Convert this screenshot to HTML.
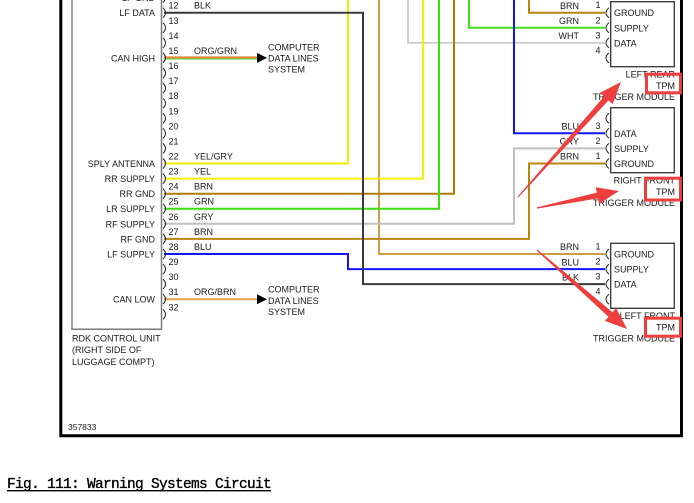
<!DOCTYPE html>
<html><head><meta charset="utf-8"><style>
html,body{margin:0;padding:0;background:#fff;}
svg{display:block;}
text{font-family:"Liberation Sans",Arial,sans-serif;font-size:9px;fill:#1a1a1a;}
.cap{font-family:"Liberation Mono","Courier New",monospace;font-size:14.5px;letter-spacing:-0.7px;fill:#000;stroke:#000;stroke-width:0.35;}
</style></head><body>
<svg width="694" height="503" viewBox="0 0 694 503" xmlns="http://www.w3.org/2000/svg">
<rect width="694" height="503" fill="#fff"/>

<!-- control unit box -->
<path d="M72,0 V329.3 H161.5 V0" fill="none" stroke="#7a7a7a" stroke-width="1.5"/>

<!-- wires -->
<g fill="none" stroke-width="2" stroke-linejoin="miter">
  <path d="M379,0 V254 H605" stroke="#c9a040"/>
  <path d="M408,0 V42.9 H605" stroke="#cfcfcf"/>
  <path d="M469,0 V27.8 H605" stroke="#44dd22"/>
  <path d="M514,0 V133.3 H605" stroke="#1414ff"/>
  <path d="M529,0 V12.7 H605" stroke="#b8860b"/>
  <path d="M164,163.5 H348 V0" stroke="#f2ee00"/>
  <path d="M164,178.6 H423 V0" stroke="#f5f000"/>
  <path d="M164,193.7 H454 V0" stroke="#b07c00"/>
  <path d="M164,208.7 H439 V0" stroke="#3ddd10"/>
  <path d="M164,223.8 H514 V148.4 H605" stroke="#c0c0c0"/>
  <path d="M164,238.9 H529 V163.5 H605" stroke="#b8860b"/>
  <path d="M164,254 H348 V269.1 H605" stroke="#1414ff"/>
  <path d="M164,12.7 H363 V284.1 H605" stroke="#3a3a3a"/>
  <path d="M164,57.4 H258" stroke="#ee8833"/>
  <path d="M164,59 H258" stroke="#44cc22" stroke-width="1"/>
  <path d="M164,299.2 H258" stroke="#e8a050"/>
</g>

<!-- arrows to computer data lines -->
<polygon points="257,52.9 257,62.9 267,57.9" fill="#000"/>
<polygon points="257,294.2 257,304.2 267,299.2" fill="#000"/>

<!-- left connectors -->
<g fill="none" stroke="#222" stroke-width="1">
  <path d="M163,-7.4 Q168,-2.4 163,2.6"/>
  <path d="M163,7.7 Q168,12.7 163,17.7"/>
  <path d="M163,22.8 Q168,27.8 163,32.8"/>
  <path d="M163,37.9 Q168,42.9 163,47.9"/>
  <path d="M163,52.9 Q168,57.9 163,62.9"/>
  <path d="M163,68 Q168,73 163,78"/>
  <path d="M163,83.1 Q168,88.1 163,93.1"/>
  <path d="M163,98.2 Q168,103.2 163,108.2"/>
  <path d="M163,113.3 Q168,118.3 163,123.3"/>
  <path d="M163,128.3 Q168,133.3 163,138.3"/>
  <path d="M163,143.4 Q168,148.4 163,153.4"/>
  <path d="M163,158.5 Q168,163.5 163,168.5"/>
  <path d="M163,173.6 Q168,178.6 163,183.6"/>
  <path d="M163,188.7 Q168,193.7 163,198.7"/>
  <path d="M163,203.7 Q168,208.7 163,213.7"/>
  <path d="M163,218.8 Q168,223.8 163,228.8"/>
  <path d="M163,233.9 Q168,238.9 163,243.9"/>
  <path d="M163,249 Q168,254 163,259"/>
  <path d="M163,264.1 Q168,269.1 163,274.1"/>
  <path d="M163,279.1 Q168,284.1 163,289.1"/>
  <path d="M163,294.2 Q168,299.2 163,304.2"/>
  <path d="M163,309.3 Q168,314.3 163,319.3"/>
</g>

<!-- left labels -->
<g text-anchor="end">
  <text x="155" y="1.2">LF GND</text>
  <text x="155" y="16.2">LF DATA</text>
  <text x="155" y="61.4">CAN HIGH</text>
  <text x="155" y="167">SPLY ANTENNA</text>
  <text x="155" y="182.1">RR SUPPLY</text>
  <text x="155" y="197.2">RR GND</text>
  <text x="155" y="212.2">LR SUPPLY</text>
  <text x="155" y="227.3">RF SUPPLY</text>
  <text x="155" y="242.4">RF GND</text>
  <text x="155" y="257.5">LF SUPPLY</text>
  <text x="155" y="302.7">CAN LOW</text>
</g>

<!-- pin numbers left -->
<g>
  <text x="168.5" y="8.7">12</text>
  <text x="168.5" y="23.8">13</text>
  <text x="168.5" y="38.9">14</text>
  <text x="168.5" y="53.9">15</text>
  <text x="168.5" y="69">16</text>
  <text x="168.5" y="84.1">17</text>
  <text x="168.5" y="99.2">18</text>
  <text x="168.5" y="114.3">19</text>
  <text x="168.5" y="129.3">20</text>
  <text x="168.5" y="144.4">21</text>
  <text x="168.5" y="159.5">22</text>
  <text x="168.5" y="174.6">23</text>
  <text x="168.5" y="189.7">24</text>
  <text x="168.5" y="204.7">25</text>
  <text x="168.5" y="219.8">26</text>
  <text x="168.5" y="234.9">27</text>
  <text x="168.5" y="250">28</text>
  <text x="168.5" y="265.1">29</text>
  <text x="168.5" y="280.1">30</text>
  <text x="168.5" y="295.2">31</text>
  <text x="168.5" y="310.3">32</text>
</g>

<!-- wire labels left -->
<g>
  <text x="194" y="8.7">BLK</text>
  <text x="194" y="53.9">ORG/GRN</text>
  <text x="194" y="159.5">YEL/GRY</text>
  <text x="194" y="174.6">YEL</text>
  <text x="194" y="189.7">BRN</text>
  <text x="194" y="204.7">GRN</text>
  <text x="194" y="219.8">GRY</text>
  <text x="194" y="234.9">BRN</text>
  <text x="194" y="250">BLU</text>
  <text x="194" y="295.2">ORG/BRN</text>
</g>

<!-- computer data lines -->
<text x="268" y="50.6">COMPUTER</text>
<text x="268" y="61.6">DATA LINES</text>
<text x="268" y="72.6">SYSTEM</text>
<text x="268" y="292.6">COMPUTER</text>
<text x="268" y="303.8">DATA LINES</text>
<text x="268" y="314.9">SYSTEM</text>

<!-- right modules -->
<g fill="none" stroke="#333" stroke-width="1.3">
  <rect x="610.7" y="1.7" width="63.6" height="65"/>
  <rect x="610.7" y="107.7" width="63.6" height="65"/>
  <rect x="610.7" y="243.3" width="63.6" height="65"/>
</g>
<g fill="none" stroke="#222" stroke-width="1">
  <path d="M609,7.7 Q603,12.7 609,17.7"/>
  <path d="M609,22.8 Q603,27.8 609,32.8"/>
  <path d="M609,37.9 Q603,42.9 609,47.9"/>
  <path d="M609,52.9 Q603,57.9 609,62.9"/>
  <path d="M609,113.3 Q603,118.3 609,123.3"/>
  <path d="M609,128.3 Q603,133.3 609,138.3"/>
  <path d="M609,143.4 Q603,148.4 609,153.4"/>
  <path d="M609,158.5 Q603,163.5 609,168.5"/>
  <path d="M609,249 Q603,254 609,259"/>
  <path d="M609,264.1 Q603,269.1 609,274.1"/>
  <path d="M609,279.1 Q603,284.1 609,289.1"/>
  <path d="M609,294.2 Q603,299.2 609,304.2"/>
</g>

<g text-anchor="end">
  <text x="579" y="8.9">BRN</text>
  <text x="579" y="24">GRN</text>
  <text x="579" y="39.1">WHT</text>
  <text x="579" y="129.5">BLU</text>
  <text x="579" y="144.6">GRY</text>
  <text x="579" y="159.7">BRN</text>
  <text x="579" y="250.2">BRN</text>
  <text x="579" y="265.3">BLU</text>
  <text x="579" y="280.3">BLK</text>
</g>
<g text-anchor="middle">
  <text x="598" y="8.2">1</text>
  <text x="598" y="23.3">2</text>
  <text x="598" y="38.4">3</text>
  <text x="598" y="53.4">4</text>
  <text x="598" y="128.8">3</text>
  <text x="598" y="143.9">2</text>
  <text x="598" y="159">1</text>
  <text x="598" y="249.5">1</text>
  <text x="598" y="264.6">2</text>
  <text x="598" y="279.6">3</text>
  <text x="598" y="294.7">4</text>
</g>
<g>
  <text x="614" y="16.2">GROUND</text>
  <text x="614" y="31.3">SUPPLY</text>
  <text x="614" y="46.4">DATA</text>
  <text x="614" y="136.8">DATA</text>
  <text x="614" y="151.9">SUPPLY</text>
  <text x="614" y="167">GROUND</text>
  <text x="614" y="257.5">GROUND</text>
  <text x="614" y="272.6">SUPPLY</text>
  <text x="614" y="287.6">DATA</text>
</g>
<g text-anchor="end">
  <text x="675" y="77.5">LEFT REAR</text>
  <text x="675" y="88.8">TPM</text>
  <text x="675" y="100">TRIGGER MODULE</text>
  <text x="675" y="183.5">RIGHT FRONT</text>
  <text x="675" y="194.8">TPM</text>
  <text x="675" y="206">TRIGGER MODULE</text>
  <text x="675" y="319">LEFT FRONT</text>
  <text x="675" y="330.4">TPM</text>
  <text x="675" y="341.7">TRIGGER MODULE</text>
</g>

<!-- control unit caption -->
<text x="72" y="341.3">RDK CONTROL UNIT</text>
<text x="72" y="353">(RIGHT SIDE OF</text>
<text x="72" y="364.8">LUGGAGE COMPT)</text>
<text x="68" y="429.8" style="font-size:8.5px">357833</text>

<!-- outer frame -->
<path d="M60.8,0 V435.7 H681.5 V0" fill="none" stroke="#000" stroke-width="3"/>

<!-- red annotations -->
<g fill="none" stroke="#ef3e3e" stroke-width="3">
  <rect x="646.5" y="74.2" width="34" height="18.6"/>
  <rect x="645.5" y="178.2" width="35" height="21.8"/>
  <rect x="645.5" y="318.2" width="35" height="18"/>
</g>
<g fill="#ef3e3e">
  <polygon points="518.4,197.4 608.5,100.4 612.6,104.1 621,82 600.0,92.7 604.1,96.4 517.6,196.6"/>
  <polygon points="537.1,208.6 598.0,198.4 599.1,203.8 619,191 595.7,187.2 596.8,192.6 536.9,207.4"/>
  <polygon points="536.6,250.5 608.5,316.8 604.9,320.9 627,329 616.1,308.1 612.5,312.2 537.4,249.5"/>
</g>

<!-- figure caption -->
<text class="cap" x="7" y="488">Fig. 111: Warning Systems Circuit</text>
<line x1="7" y1="490.7" x2="271" y2="490.7" stroke="#000" stroke-width="1.3"/>
</svg>
</body></html>
